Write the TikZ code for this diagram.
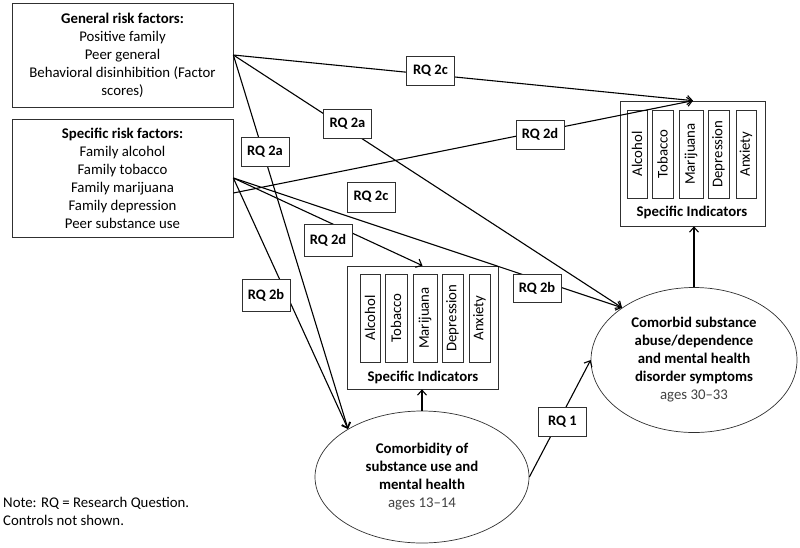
\documentclass[tikz,border=0pt]{standalone}
\usepackage{fontspec}
\setmainfont{Carlito}
\usetikzlibrary{shapes.geometric,arrows.meta}
\definecolor{agegray}{HTML}{404040}
\definecolor{edge}{HTML}{303030}
\begin{document}
\begin{tikzpicture}[x=1pt,y=-1pt,
  txt/.style={font=\fontsize{14.8}{18}\selectfont},
  box/.style={draw=edge, line width=0.7pt, fill=white, inner sep=0pt, align=center, txt},
  rq/.style={draw=edge, line width=0.7pt, fill=white, inner sep=0pt, minimum width=48pt, minimum height=29pt, font=\fontsize{14.5}{16}\selectfont\bfseries},
  ind/.style={draw=edge, line width=0.7pt, rotate=90, inner sep=0pt, minimum width=88pt, txt},
  ell/.style={draw=edge, line width=0.7pt, ellipse, inner sep=0pt, align=center, txt},
  conn/.style={line width=1.1pt},
  arr/.style={conn, -{Straight Barb[length=5pt,width=9pt,line width=1.1pt]}},
  silabel/.style={font=\fontsize{14.8}{16}\selectfont\bfseries}
]
\useasboundingbox (0,0) rectangle (800,547);

% risk factor boxes
\node[box, minimum width=221pt, minimum height=104pt] (gen) at (122.5,55)
  {\textbf{General risk factors:}\\Positive family\\Peer general\\Behavioral disinhibition (Factor\\scores)};
\node[box, minimum width=221pt, minimum height=118pt] (spec) at (122.5,178)
  {\textbf{Specific risk factors:}\\Family alcohol\\Family tobacco\\Family marijuana\\Family depression\\Peer substance use};
\coordinate (specB) at ([yshift=-15pt]spec.east);

% specific indicators (top right)
\node[box, minimum width=145pt, minimum height=125pt] (si1) at (693,163.5) {};
\node[ind, minimum height=20pt] (a1) at (637,154) {Alcohol};
\node[ind, minimum height=21pt] (t1) at (662.5,154) {Tobacco};
\node[ind, minimum height=24pt] (m1) at (691,154) {Marijuana};
\node[ind, minimum height=21pt] (d1) at (718.5,154) {Depression};
\node[ind, minimum height=20pt] (x1) at (746,154) {Anxiety};
\node[silabel] (sl1) at (692,212) {Specific Indicators};

% specific indicators (middle)
\node[box, minimum width=151pt, minimum height=123pt] (si2) at (422.5,327.5) {};
\node[ind, minimum height=20pt] (a2) at (370,318) {Alcohol};
\node[ind, minimum height=22pt] (t2) at (396,318) {Tobacco};
\node[ind, minimum height=24pt] (m2) at (425,318) {Marijuana};
\node[ind, minimum height=21pt] (d2) at (452.5,318) {Depression};
\node[ind, minimum height=21pt] (x2) at (479.5,318) {Anxiety};
\node[silabel] (sl2) at (423,377) {Specific Indicators};

% ellipses
\node[ell, minimum width=214pt, minimum height=132pt] (ell1) at (422,477)
  {\textbf{Comorbidity of}\\\textbf{substance use and}\\\textbf{mental health}\\\textcolor{agegray}{ages 13--14}};
\node[ell, minimum width=206pt, minimum height=145pt] (ell2) at (694,360)
  {\textbf{Comorbid substance}\\\textbf{abuse/dependence}\\\textbf{and mental health}\\\textbf{disorder symptoms}\\\textcolor{agegray}{ages 30--33}};

% connectors
\draw[arr] (gen.east) -- (si1.north);
\draw[arr] (specB) -- (si1.north);
\draw[arr] (gen.east) -- (ell2.144);
\draw[arr] (spec.east) -- (ell2.144);
\draw[arr] (gen.east) -- (ell1.147);
\draw[arr] (spec.east) -- (ell1.147);
\draw[arr] (spec.east) -- (si2.north);
\draw[arr] (ell1.east) -- (ell2.west);
\draw[arr] (ell1.north) -- (ell1.north |- si2.south);
\draw[arr] (ell2.north) -- (ell2.north |- si1.south);

% RQ labels
\node[rq] (rq2c1) at (430.5,70.5) {RQ 2c};
\node[rq] (rq2d1) at (540,134.5) {RQ 2d};
\node[rq] (rq2a1) at (347.5,124) {RQ 2a};
\node[rq] (rq2a2) at (265,151.5) {RQ 2a};
\node[rq, minimum height=30pt] (rq2c2) at (371,197) {RQ 2c};
\node[rq, minimum height=32pt] (rq2d2) at (328,240) {RQ 2d};
\node[rq, minimum height=32pt] (rq2b1) at (266,295) {RQ 2b};
\node[rq, minimum height=28pt] (rq2b2) at (537,288) {RQ 2b};
\node[rq] (rq1) at (562.5,421.5) {RQ 1};

% note
\node[anchor=north west, align=left, txt, inner sep=0pt] (note) at (3,497)
  {Note: RQ = Research Question.\\Controls not shown.};
\end{tikzpicture}
\end{document}
